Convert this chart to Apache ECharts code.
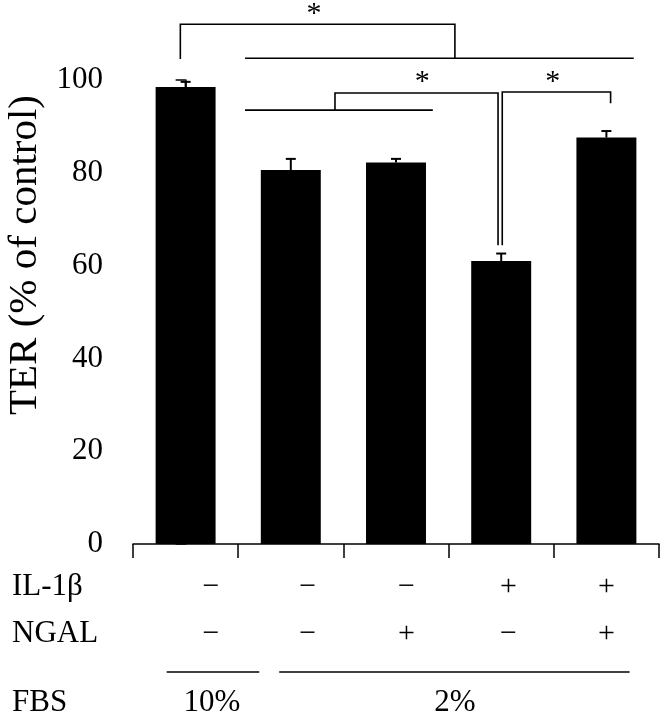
<!DOCTYPE html>
<html><head><meta charset="utf-8">
<script src="https://cdn.jsdelivr.net/npm/echarts@6/dist/echarts.min.js"></script>
<style>html,body{margin:0;padding:0;background:#fff}#c{width:660px;height:716px}</style>
</head><body><div id="c"></div>
<script>
// ---- data ----
const categories = ['10% FBS', '2% FBS', '2% FBS + NGAL', '2% FBS + IL-1β', '2% FBS + IL-1β + NGAL'];
const values = [98.5, 80.6, 82.2, 61.0, 87.6];
const errors = [1.1, 2.4, 0.8, 1.6, 1.4];
const yTickStep = 20;
const yMax = 100;
const il1bSigns = ['−', '−', '−', '+', '+'];
const ngalSigns = ['−', '−', '+', '−', '+'];
const rowNames = ['IL-1β', 'NGAL', 'FBS'];
const fbsLabels = ['10%', '2%'];
// annotation positions (x in category-index units, y in axis units)
const signX = [0.24, 1.16, 2.10, 3.07, 4.00];
const rowY = [-9.3, -19.4, -34.3];
const rowNameX = -1.65;
const fbsLabelX = [0.25, 2.56];
const fbsLineFrom = [-0.18, 0.89];
const fbsLineTo = [0.70, 4.22];
const fbsLineY = -27.6;
const brackets = [
  [[-0.05, 104.5], [-0.05, 112], [2.56, 112], [2.56, 104.7]],
  [[0.565, 104.7], [4.26, 104.7]],
  [[0.565, 93.5], [2.35, 93.5]],
  [[1.42, 93.5], [1.42, 97.2], [2.97, 97.2], [2.97, 64.4]],
  [[3.01, 64.4], [3.01, 97.4], [4.04, 97.4], [4.04, 95.0]]
];
const stars = [[1.22, 114.2], [2.25, 99.5], [3.49, 99.5]];

const FONT = '"Liberation Serif", "Times New Roman", serif';
const chart = echarts.init(document.getElementById('c'));

const texts = [];
il1bSigns.forEach((s, i) => texts.push({t: s, x: signX[i], y: rowY[0], a: 'center', size: 30}));
ngalSigns.forEach((s, i) => texts.push({t: s, x: signX[i], y: rowY[1], a: 'center', size: 30}));
rowNames.forEach((s, i) => texts.push({t: s, x: rowNameX, y: rowY[i], a: 'left', size: 31}));
fbsLabels.forEach((s, i) => texts.push({t: s, x: fbsLabelX[i], y: rowY[2], a: 'center', size: 31}));
stars.forEach(p => texts.push({t: '*', x: p[0], y: p[1], a: 'center', size: 30}));

const lines = brackets.slice();
fbsLineFrom.forEach((f, i) => lines.push([[f, fbsLineY], [fbsLineTo[i], fbsLineY]]));

chart.setOption({
  animation: false,
  backgroundColor: '#fff',
  grid: {left: 133, right: 1, top: 80, bottom: 172, containLabel: false, outerBoundsMode: 'none'},
  xAxis: [{
    type: 'category', data: categories,
    axisLine: {lineStyle: {color: '#000', width: 1.5}},
    axisTick: {show: true, interval: 0, length: 14, lineStyle: {color: '#000', width: 1.5}},
    axisLabel: {show: false}, splitLine: {show: false}
  }, {
    type: 'value', min: -0.5, max: 4.5, show: false
  }],
  yAxis: {
    type: 'value', min: 0, max: yMax, interval: yTickStep,
    name: 'TER (% of control)', nameLocation: 'middle', nameRotate: 90, nameGap: 86,
    nameTextStyle: {fontFamily: FONT, fontSize: 41, color: '#000', padding: [0, 0, 0, 114]},
    axisLine: {show: true, lineStyle: {color: '#000', width: 1.5}},
    axisTick: {show: true, length: 10, lineStyle: {color: '#000', width: 1.5}},
    axisLabel: {fontFamily: FONT, fontSize: 31, color: '#000', margin: 30},
    splitLine: {show: false}
  },
  series: [{
    type: 'bar', data: values, barWidth: '57%',
    itemStyle: {color: '#000'}, z: 2
  }, {
    type: 'custom', xAxisIndex: 0, yAxisIndex: 0, z: 3,
    data: values.map((v, i) => [i, v, v + errors[i]]),
    renderItem: (params, api) => {
      const top = api.coord([api.value(0), api.value(2)]);
      const base = api.coord([api.value(0), api.value(1)]);
      return {type: 'group', children: [
        {type: 'line', shape: {x1: base[0], y1: base[1], x2: top[0], y2: top[1]}, style: {stroke: '#000', lineWidth: 2}},
        {type: 'line', shape: {x1: top[0] - 5, y1: top[1], x2: top[0] + 5, y2: top[1]}, style: {stroke: '#000', lineWidth: 2}}
      ]};
    }
  }, {
    type: 'custom', xAxisIndex: 1, yAxisIndex: 0, clip: false, z: 4,
    data: lines.map(l => [l[0][0], l[0][1]]),
    renderItem: (params, api) => {
      const pts = lines[params.dataIndex].map(p => api.coord(p));
      return {type: 'polyline', shape: {points: pts}, style: {stroke: '#000', lineWidth: 1.6, fill: null}};
    }
  }, {
    type: 'custom', xAxisIndex: 1, yAxisIndex: 0, clip: false, z: 4,
    data: texts.map(t => [t.x, t.y]),
    renderItem: (params, api) => {
      const t = texts[params.dataIndex];
      const p = api.coord([t.x, t.y]);
      return {type: 'text', style: {text: t.t, x: p[0], y: p[1], fill: '#000',
        font: t.size + 'px ' + FONT, align: t.a, verticalAlign: 'middle'}};
    }
  }]
});
</script></body></html>
